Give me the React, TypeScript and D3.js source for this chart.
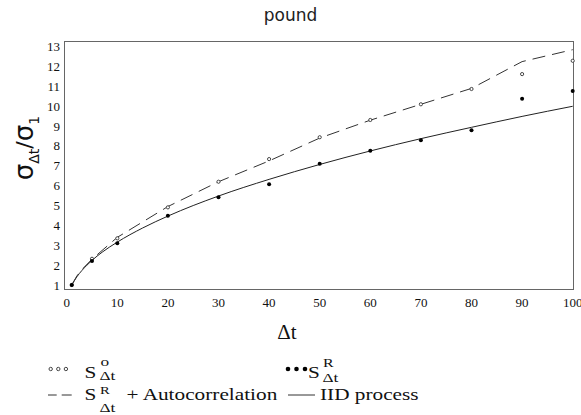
import React from "react";
import * as d3 from "d3";

const xTicks = [0, 10, 20, 30, 40, 50, 60, 70, 80, 90, 100];
const yTicks = [1, 2, 3, 4, 5, 6, 7, 8, 9, 10, 11, 12, 13];

const pointX = [1, 5, 10, 20, 30, 40, 50, 60, 70, 80, 90, 100];
const openVals = [1, 2.32, 3.35, 4.91, 6.2, 7.34, 8.44, 9.31, 10.1, 10.87, 11.62, 12.29];
const filledVals = [1, 2.21, 3.1, 4.49, 5.42, 6.07, 7.1, 7.76, 8.29, 8.79, 10.38, 10.77];

const autoX = [1, 2, 3, 5, 10, 20, 30, 40, 50, 60, 70, 80, 90, 100];
const autoVals = [1, 1.45, 1.78, 2.3, 3.4, 4.95, 6.2, 7.25, 8.4, 9.3, 10.1, 10.9, 12.25, 12.85];

const iidX = [1, 2, 3, 4, 5, 7, 10, 15, 20, 30, 40, 50, 60, 70, 80, 90, 100];
const iidVals = [1, 1.41, 1.73, 2, 2.24, 2.65, 3.16, 3.87, 4.47, 5.48, 6.32, 7.07, 7.75, 8.37, 8.94, 9.49, 10];

const SERIF = "'Liberation Serif', 'DejaVu Serif', serif";
const SANS = "'DejaVu Sans', 'Liberation Sans', sans-serif";
const SX = 1.33;

function LT({ x, y, size, children }: { x: number; y: number; size: number; children: React.ReactNode }) {
  return (
    <text transform={`translate(${x},${y}) scale(${SX},1)`} fontFamily={SERIF} fontSize={size} fill="#111">
      {children}
    </text>
  );
}

export default function App() {
  const W = 581, H = 415;
  const x = d3.scaleLinear().domain([0, 100]).range([66.7, 572.7]);
  const y = d3.scaleLinear().domain([1, 13]).range([285, 46.7]);
  const frame = { l: 64.5, r: 573.5, t: 41.5, b: 289.5 };

  const iidPath = d3
    .line<[number, number]>()
    .x(d => x(d[0]))
    .y(d => y(d[1]))
    .curve(d3.curveMonotoneX)(iidX.map((v, i) => [v, iidVals[i]] as [number, number])) as string;
  const autoPath = d3
    .line<[number, number]>()
    .x(d => x(d[0]))
    .y(d => y(d[1]))(autoX.map((v, i) => [v, autoVals[i]] as [number, number])) as string;

  const rx = 288;
  return (
    <svg width={W} height={H} style={{ position: "absolute", left: 0, top: 0, background: "#fff" }}>
      <rect x={0} y={0} width={W} height={H} fill="#fff" />
      <text x={290.5} y={20.5} textAnchor="middle" fontFamily={SANS} fontSize={17} fill="#222">pound</text>
      <rect x={frame.l} y={frame.t} width={frame.r - frame.l} height={frame.b - frame.t} fill="none" stroke="#666" strokeWidth={1} />
      {yTicks.map(t => (
        <text key={"y" + t} x={60} y={y(t) + 4.5} textAnchor="end" fontFamily={SERIF} fontSize={13} fill="#111">{t}</text>
      ))}
      {xTicks.map(t => (
        <text key={"x" + t} x={x(t)} y={307} textAnchor="middle" fontFamily={SERIF} fontSize={13} fill="#111">{t}</text>
      ))}
      <path d={iidPath} fill="none" stroke="#222" strokeWidth={1} />
      <path d={autoPath} fill="none" stroke="#333" strokeWidth={1} strokeDasharray="13,7" />
      {pointX.map((v, i) => (
        <circle key={"o" + i} cx={x(v)} cy={y(openVals[i])} r={1.6} fill="#fff" stroke="#333" strokeWidth={0.9} />
      ))}
      {pointX.map((v, i) => (
        <circle key={"f" + i} cx={x(v)} cy={y(filledVals[i])} r={2} fill="#000" />
      ))}
      <text x={287} y={339} textAnchor="middle" fontFamily={SERIF} fontSize={21} fill="#111">Δt</text>
      <g transform="translate(33,148) rotate(-90)">
        <text x={0} y={0} textAnchor="middle" fontFamily={SANS} fill="#111">
          <tspan fontSize={26}>σ</tspan>
          <tspan fontSize={14} dy={6}>Δt</tspan>
          <tspan fontSize={22} dy={-7}>/</tspan>
          <tspan fontSize={26} dy={1}>σ</tspan>
          <tspan fontSize={14} dy={6}>1</tspan>
        </text>
      </g>
      {/* Legend row 1 left */}
      {[0, 1, 2].map(i => (
        <circle key={"lo" + i} cx={50.7 + i * 7.6} cy={369} r={1.7} fill="#fff" stroke="#333" strokeWidth={0.9} />
      ))}
      <LT x={84.5} y={378} size={16}>S</LT>
      <LT x={100.5} y={366} size={13}>o</LT>
      <LT x={99.5} y={380} size={13}>Δt</LT>
      {/* Legend row 2 left */}
      <line x1={48} y1={395} x2={56.7} y2={395} stroke="#333" />
      <line x1={61.7} y1={395} x2={71.7} y2={395} stroke="#333" />
      <LT x={84.5} y={400} size={16}>S</LT>
      <LT x={100} y={393.5} size={11}>R</LT>
      <LT x={99.5} y={411.5} size={13}>Δt</LT>
      <LT x={126.5} y={400} size={16}>+ Autocorrelation</LT>
      {/* Legend row 1 right */}
      {[0, 1, 2].map(i => (
        <circle key={"lf" + i} cx={rx + i * 8.5} cy={369} r={2.3} fill="#000" />
      ))}
      <LT x={rx + 20} y={378} size={16}>S</LT>
      <LT x={rx + 35} y={367} size={12}>R</LT>
      <LT x={rx + 34.5} y={381.5} size={13}>Δt</LT>
      {/* Legend row 2 right */}
      <line x1={rx} y1={395} x2={rx + 27} y2={395} stroke="#333" />
      <LT x={rx + 32} y={400} size={16}>IID process</LT>
    </svg>
  );
}
